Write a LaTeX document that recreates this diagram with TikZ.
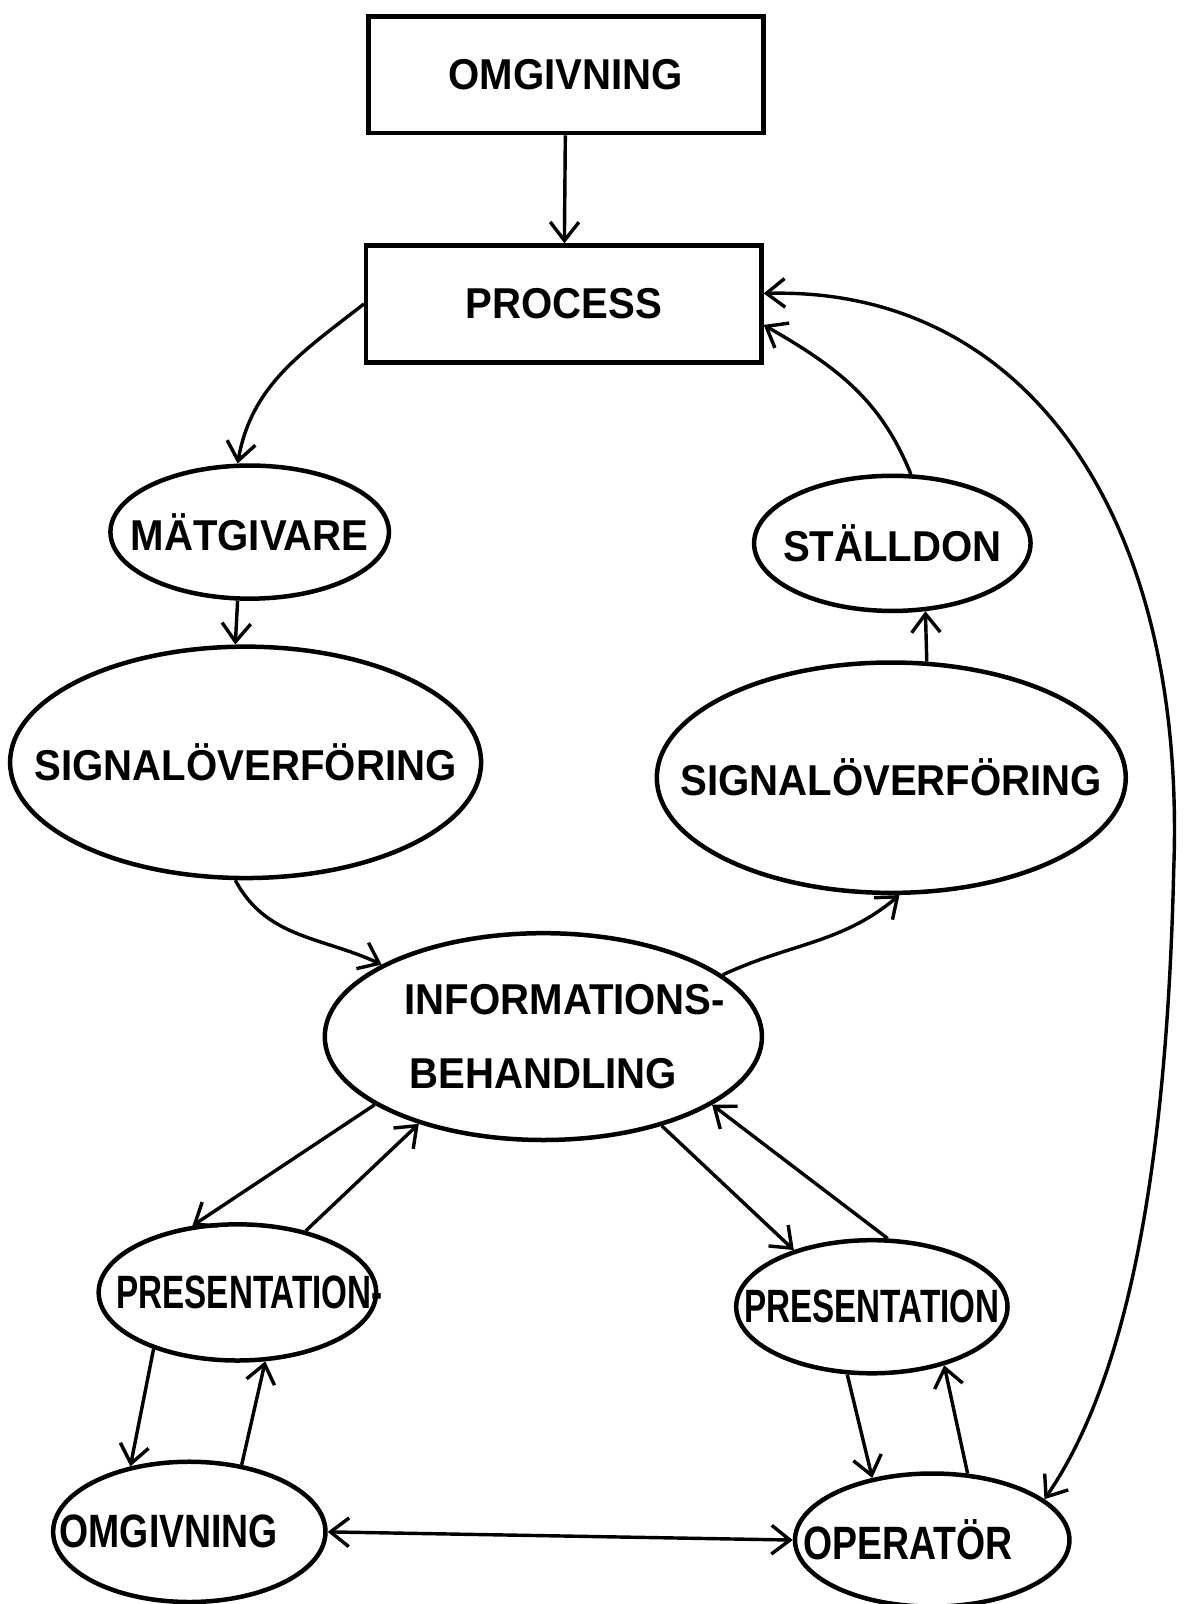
\documentclass[tikz,border=0pt]{standalone}
\usepackage{fontspec}
\setmainfont[FakeStretch=0.93]{Liberation Sans}
\newfontfamily\condfont[FakeStretch=0.8]{Liberation Sans}
\newfontfamily\narrowfont[FakeStretch=0.71]{Liberation Sans}
\usetikzlibrary{shapes.geometric,arrows.meta}
% zero-width label, optionally shifted sideways
\newcommand{\bubbletext}[2][0pt]{\makebox[0pt]{\kern#1\relax#2\kern-#1\relax}}
\begin{document}
\begin{tikzpicture}[x=0.01cm,y=0.01cm,line width=1.25pt,
    >={Straight Barb[length=1.8mm,width=2.8mm]},
    font=\bfseries\fontsize{12}{14}\selectfont,
    box/.style={draw,rectangle,minimum width=3.86cm,minimum height=1.14cm},
    bubble/.style 2 args={draw,ellipse,inner sep=0pt,minimum width=#1,minimum height=#2}]
  \useasboundingbox (0,0) rectangle (1157,-1567.5);
  \draw
    (553,-73) node[box] (omg){OMGIVNING}
    (551,-297) node[box] (proc){PROCESS}
    (244,-520) node[bubble={2.72cm}{1.30cm}] (mat){\bubbletext{MÄTGIVARE}}
    (872,-531) node[bubble={2.70cm}{1.32cm}] (stal){\bubbletext{STÄLLDON}}
    (240,-745) node[bubble={4.60cm}{2.26cm}] (sigL){\bubbletext{SIGNALÖVERFÖRING}}
    (871,-760) node[bubble={4.58cm}{2.25cm}] (sigR){\bubbletext{SIGNALÖVERFÖRING}}
    (531,-1013) node[bubble={4.27cm}{2.02cm},align=center] (info)
      {\bubbletext[0.21cm]{INFORMATIONS-}\\[6.5pt]\bubbletext{BEHANDLING}}
    (232,-1263) node[bubble={2.71cm}{1.33cm},font=\narrowfont\bfseries\fontsize{13}{15}\selectfont] (presL)
      {\bubbletext[0.12cm]{PRESENTATION-}}
    (852,-1277) node[bubble={2.65cm}{1.30cm},font=\narrowfont\bfseries\fontsize{13}{15}\selectfont] (presR)
      {\bubbletext{PRESENTATION}}
    (185,-1497) node[bubble={2.66cm}{1.37cm},font=\condfont\bfseries\fontsize{13}{15}\selectfont] (omgB)
      {\bubbletext[-0.2cm]{OMGIVNING}}
    (911,-1505) node[bubble={2.68cm}{1.30cm},font=\condfont\bfseries\fontsize{13}{15}\selectfont] (oper)
      {\bubbletext[-0.24cm]{OPERATÖR}};
  \begin{scope}[->,line width=0.95pt]
    \draw (omg) to (proc);
    \draw (proc.west) to[out=218,in=80] (mat.100);
    \draw (mat.260) to (sigL.95);
    \draw (sigL.265) to[out=-62,in=155] (info.156);
    \draw (info.19) to[out=25,in=220] (sigR.274);
    \draw (sigR.73) to (stal.-64);
    \draw (stal.75) to[out=112,in=-30] (proc.-6);
    \draw[<->] (proc.3) .. controls (1000,-280) and (1160,-500) .. (1147,-850)
      .. controls (1140,-1150) and (1100,-1350) .. (oper.20);
    \draw (info.202) to (presL.124);
    \draw (presL.42) to (info.215);
    \draw (info.-37) to (presR.144);
    \draw (presR.77) to (info.-22);
    \draw (presL.214) to (omgB.132);
    \draw (omgB.52) to (presL.-68);
    \draw (presR.250) to (oper.134);
    \draw (oper.62) to (presR.-39);
    \draw[<->] (omgB.east) to (oper.west);
  \end{scope}
\end{tikzpicture}
\end{document}
